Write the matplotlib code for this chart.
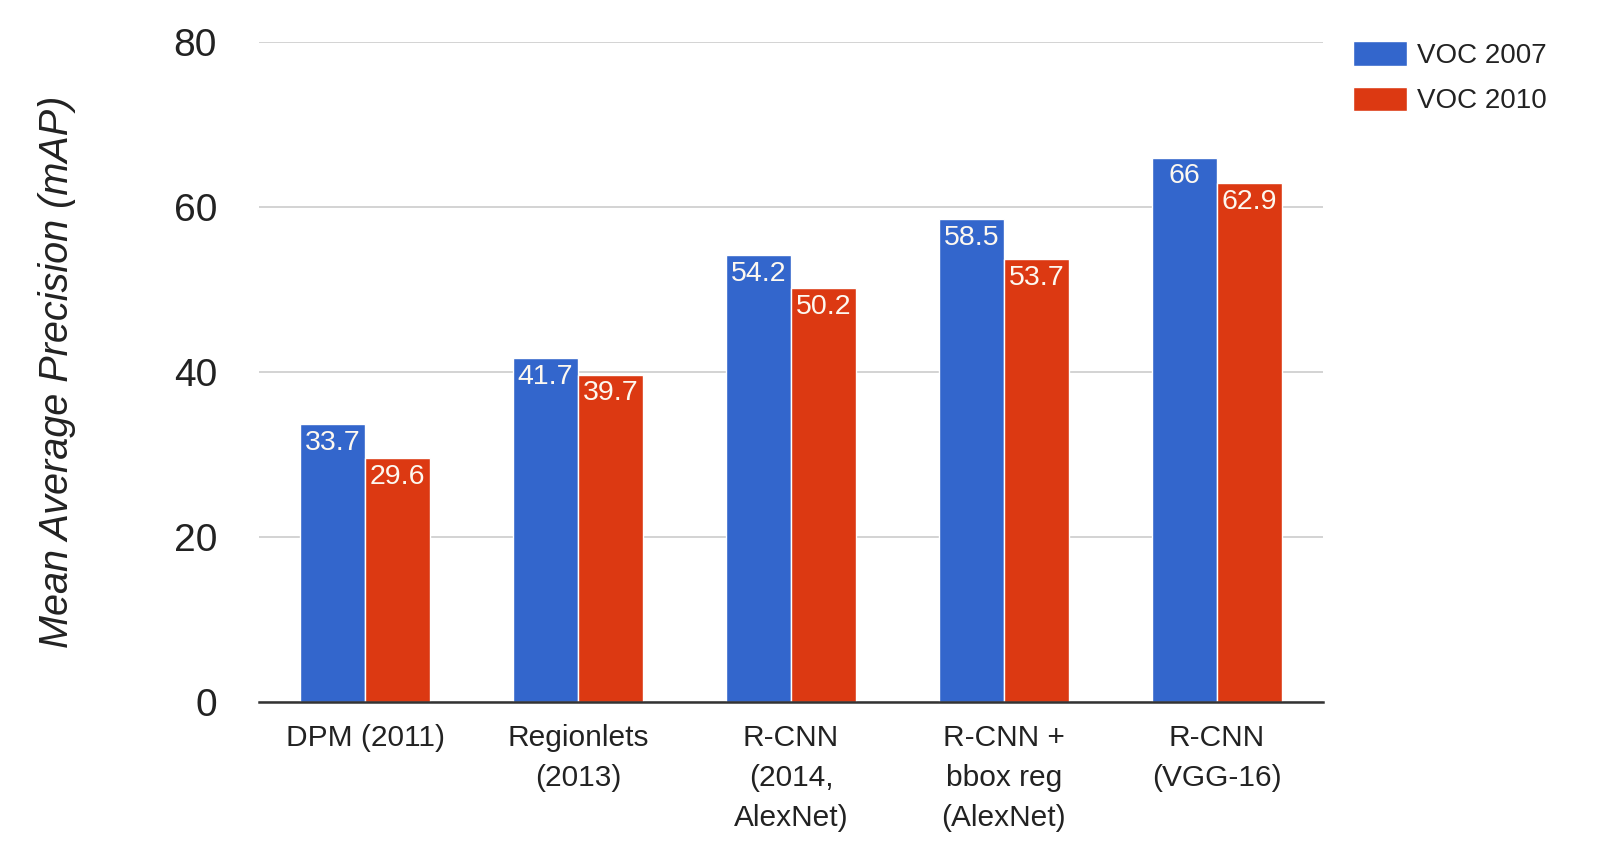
import matplotlib
matplotlib.use("Agg")
import matplotlib.pyplot as plt
import numpy as np

categories = ["DPM (2011)", "Regionlets\n(2013)", "R-CNN\n(2014,\nAlexNet)",
              "R-CNN +\nbbox reg\n(AlexNet)", "R-CNN\n(VGG-16)"]
voc2007 = [33.7, 41.7, 54.2, 58.5, 66]
voc2010 = [29.6, 39.7, 50.2, 53.7, 62.9]
yticks = [0, 20, 40, 60, 80]

plt.rcParams['font.family'] = ['Liberation Sans', 'DejaVu Sans']

fig = plt.figure(figsize=(16.06, 8.66), dpi=100)
ax = fig.add_axes([0.161, 0.189, 0.663, 0.7625])

x = np.arange(len(categories))
w = 0.305
b1 = ax.bar(x - w / 2, voc2007, w, color="#3366CC", edgecolor="white", linewidth=1.0, label="VOC 2007", zorder=3)
b2 = ax.bar(x + w / 2, voc2010, w, color="#DC3912", edgecolor="white", linewidth=1.0, label="VOC 2010", zorder=3)

for bars, vals in ((b1, voc2007), (b2, voc2010)):
    for r, v in zip(bars, vals):
        ax.annotate(f"{v:g}", (r.get_x() + r.get_width() / 2, v), xytext=(0, -4),
                    textcoords="offset points", ha="center", va="top",
                    color="#FDF8F0", fontsize=20.5, zorder=4)

ax.set_xlim(-0.5, len(categories) - 0.5)
ax.set_ylim(0, 80)
ax.set_yticks(yticks)
ax.set_yticklabels([str(t) for t in yticks], fontsize=28, color="#222222")
ax.set_xticks(x)
ax.set_xticklabels(categories, fontsize=21.5, color="#222222", linespacing=1.54)
ax.tick_params(axis="y", length=0, pad=30)
ax.tick_params(axis="x", length=0, pad=15.5)
ax.yaxis.grid(True, color="#CCCCCC", linewidth=1.2, zorder=0)
ax.set_axisbelow(True)
for s in ("top", "right", "left"):
    ax.spines[s].set_visible(False)
ax.spines["bottom"].set_color("#333333")
ax.spines["bottom"].set_linewidth(1.8)
ax.spines["bottom"].set_zorder(5)

ax.set_ylabel("Mean Average Precision (mAP)", fontsize=28.5, style="italic", color="#222222", labelpad=70)

leg = ax.legend(loc="upper left", bbox_to_anchor=(1.017, 1.018), frameon=False,
                fontsize=20, handlelength=1.95, handleheight=0.97,
                handletextpad=0.36, labelspacing=0.64, borderaxespad=0)
for t in leg.get_texts():
    t.set_color("#222222")

fig.savefig("out.png", dpi=100, facecolor="white")
